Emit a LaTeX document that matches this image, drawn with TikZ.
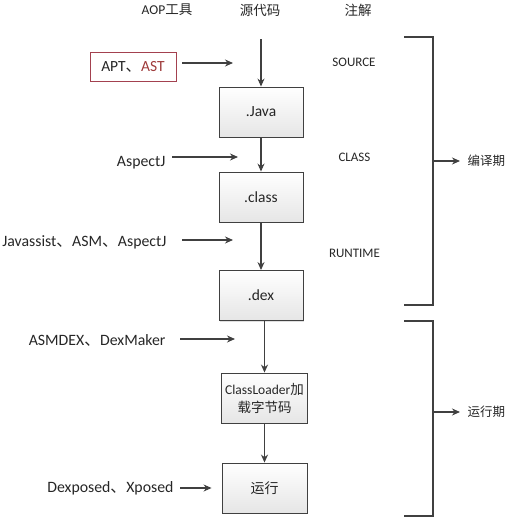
\documentclass[tikz,border=0pt]{standalone}
\usepackage{fontspec}
\setmainfont{Carlito}
\newfontfamily\zhfont{Noto Sans CJK SC}
\newcommand{\zh}[1]{{\zhfont #1}}
\usetikzlibrary{arrows.meta, shadows}
\definecolor{linegray}{HTML}{404040}
\definecolor{boxred}{HTML}{A3414F}
\definecolor{textred}{HTML}{9E3B3B}

\begin{document}
\begin{tikzpicture}[x=1pt,y=-1pt,>={Stealth[length=8pt,width=7pt]},line width=1.1pt,
  every node/.style={text=black!85},
  stage/.style={draw=linegray, line width=0.9pt, minimum width=84pt, minimum height=50pt,
    top color=white, bottom color=gray!20,
    drop shadow={shadow xshift=1.2pt, shadow yshift=-1.2pt, opacity=0.25},
    font=\fontsize{15.5}{18}\selectfont},
  tool/.style={anchor=east, inner sep=0pt, font=\fontsize{15.8}{18}\selectfont},
  note/.style={inner sep=0pt, font=\fontsize{13}{15}\selectfont},
  head/.style={inner sep=0pt, font=\fontsize{13.5}{16}\selectfont},
  phase/.style={anchor=west, inner sep=0pt, font=\fontsize{12.5}{15}\selectfont}]
  \useasboundingbox (0,0) rectangle (507,517);

% define the headers
  \node[head] (htool) at (167,10) {AOP\zh{工具}};
  \node[head] (hsrc)  at (260,10) {\zh{源代码}};
  \node[head] (hnote) at (358,10) {\zh{注解}};

% define the stages
  \coordinate (top) at (261,39);
  \node[stage] (java)  at (261,112)   {.Java};
  \node[stage] (class) at (261,197)   {.class};
  \node[stage] (dex)   at (261,295.5) {.dex};
  \node[stage, minimum width=85pt, align=center, font=\fontsize{13.5}{18}\selectfont]
        (load) at (264.5,398) {ClassLoader\zh{加}\\\zh{载字节码}};
  \node[stage, minimum width=85pt, font=\fontsize{14}{16}\selectfont]
        (run)  at (264.5,488) {\zh{运行}};

% define the tools
  \node[draw=boxred, line width=0.9pt, minimum width=86pt, minimum height=29pt,
        font=\fontsize{15.5}{18}\selectfont] (apt) at (133,66.5) {APT\zh{、}\textcolor{textred}{AST}};
  \node[tool] (aspectj)   at (166,163) {AspectJ};
  \node[tool] (javassist) at (167,242) {Javassist\zh{、}ASM\zh{、}AspectJ};
  \node[tool] (asmdex)    at (166,340) {ASMDEX\zh{、}DexMaker};
  \node[tool] (xposed)    at (174,488) {Dexposed\zh{、}Xposed};
  \coordinate (aptin)       at (233,63);
  \coordinate (aspectjin)   at (238,157);
  \coordinate (javassistin) at (233,240);
  \coordinate (asmdexin)    at (235,339);

% define the annotations
  \node[note] (source)  at (354,62)    {SOURCE};
  \node[note] (clsnote) at (354.5,157) {CLASS};
  \node[note] (runtime) at (354.5,253) {RUNTIME};

% define the phases
  \coordinate (c1) at (404,37);  \coordinate (c2) at (433,37);
  \coordinate (c3) at (433,305); \coordinate (c4) at (404,305);
  \coordinate (cmid) at (433,161);
  \node[phase] (compile) at (467,161) {\zh{编译期}};
  \coordinate (r1) at (404,321); \coordinate (r2) at (433,321);
  \coordinate (r3) at (433,516); \coordinate (r4) at (404,516);
  \coordinate (rmid) at (433,412);
  \node[phase] (runphase) at (467,412) {\zh{运行期}};

% define the links
  \draw[linegray] (c1) -- (c2) -- (c3) -- (c4)
                  (r1) -- (r2) -- (r3) -- (r4);
  \path[->, linegray]
        (top) edge (java)
        (java) edge (class)
        (class) edge (dex)
        (dex.south -| load.north) edge (load)
        (load) edge (run)
        (apt.east |- aptin) edge [shorten <=6pt] (aptin)
        (aspectj.east |- aspectjin) edge [shorten <=6pt] (aspectjin)
        (javassist.east |- javassistin) edge [shorten <=15pt] (javassistin)
        (asmdex.east |- asmdexin) edge [shorten <=14pt] (asmdexin)
        (xposed) edge [shorten <=6pt, shorten >=10pt] (run)
        (cmid) edge [shorten >=7pt] (compile)
        (rmid) edge [shorten >=7pt] (runphase);
\end{tikzpicture}
\end{document}
